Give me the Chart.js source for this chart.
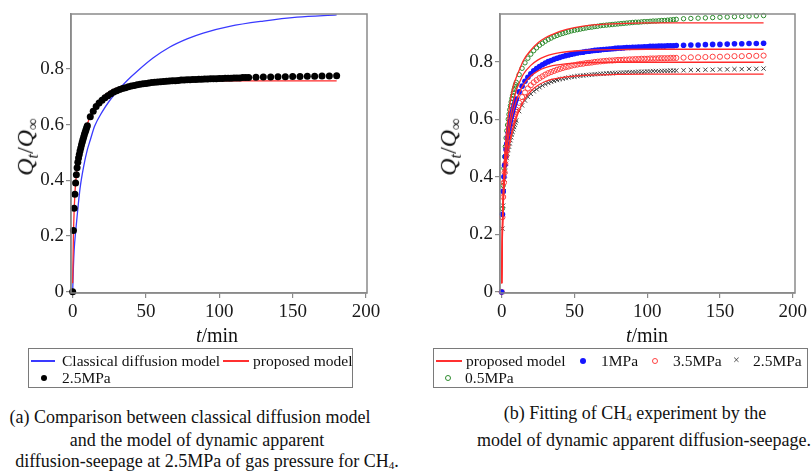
<!DOCTYPE html>
<html><head><meta charset="utf-8">
<script src="https://cdn.jsdelivr.net/npm/chart.js@4/dist/chart.umd.min.js"></script>
<style>
html,body{margin:0;padding:0;background:#fff}
body{width:811px;height:474px;overflow:hidden;position:relative;font-family:"Liberation Serif","Times New Roman",serif;color:#111}
canvas{position:absolute}
.a{position:absolute;white-space:nowrap}
.c{transform:translate(-50%,-50%)}
.yt{transform:translate(-50%,-50%) rotate(-90deg);font-size:24px;line-height:1}
.yt sub{font-size:0.68em;vertical-align:-0.3em}
.xt{font-size:20px;line-height:1}
.box{border:1.5px solid #7a7a7a;box-sizing:border-box}
.lt{font-size:15.5px;line-height:18px}
.ln{height:2px}
.cap{font-size:18px;line-height:22px}
.cap sub{font-size:0.62em;vertical-align:-0.25em}
</style></head><body>
<canvas id="c1" width="400" height="345" style="left:0;top:0"></canvas>
<canvas id="c2" width="401" height="345" style="left:410px;top:0"></canvas>

<div class="a yt" style="left:27px;top:147px"><i>Q</i><sub><i>t</i></sub>/<i>Q</i><sub>∞</sub></div>
<div class="a yt" style="left:450px;top:147px"><i>Q</i><sub><i>t</i></sub>/<i>Q</i><sub>∞</sub></div>
<div class="a c xt" style="left:217px;top:335px"><i>t</i>/min</div>
<div class="a c xt" style="left:647px;top:335px"><i>t</i>/min</div>

<div class="a box" style="left:28px;top:348px;width:325px;height:40px"></div>
<div class="a ln" style="left:31px;top:360px;width:24px;background:#3a3aff"></div>
<div class="a lt" style="left:62px;top:352px">Classical diffusion model</div>
<div class="a ln" style="left:223px;top:360px;width:26px;background:#ff3030"></div>
<div class="a lt" style="left:253px;top:352px">proposed model</div>
<div class="a" style="left:41px;top:375px;width:6px;height:6px;border-radius:50%;background:#000"></div>
<div class="a lt" style="left:62px;top:369px">2.5MPa</div>

<div class="a box" style="left:433px;top:348px;width:375px;height:40px"></div>
<div class="a ln" style="left:436px;top:360px;width:26px;background:#ff3030"></div>
<div class="a lt" style="left:466px;top:352px">proposed model</div>
<div class="a" style="left:580px;top:358px;width:6px;height:6px;border-radius:50%;background:#1515ff"></div>
<div class="a lt" style="left:601px;top:352px">1MPa</div>
<div class="a" style="left:652px;top:358px;width:6px;height:6px;border-radius:50%;border:1px solid #ff4040;box-sizing:border-box"></div>
<div class="a lt" style="left:673px;top:352px">3.5MPa</div>
<div class="a" style="left:733px;top:351px;font-size:12px;line-height:18px;color:#444">×</div>
<div class="a lt" style="left:753px;top:352px">2.5MPa</div>
<div class="a" style="left:445px;top:375px;width:6px;height:6px;border-radius:50%;border:1.2px solid #2e8b2e;box-sizing:border-box"></div>
<div class="a lt" style="left:465px;top:369px">0.5MPa</div>

<div class="a c cap" style="left:190px;top:417px">(a) Comparison between classical diffusion model</div>
<div class="a c cap" style="left:197px;top:440px">and the model of dynamic apparent</div>
<div class="a c cap" style="left:207px;top:463px">diffusion-seepage at 2.5MPa of gas pressure for CH<sub>4</sub>.</div>
<div class="a c cap" style="left:635px;top:415px">(b) Fitting of CH<sub>4</sub> experiment by the</div>
<div class="a cap" style="left:477px;top:429px">model of dynamic apparent diffusion-seepage.</div>

<script>
// ---- data ----
const tData = [0,0.5,1,1.5,2,2.5,3,3.5,4,4.5,5,5.5,6,6.5,7,7.5,8,8.5,9,9.5,10,
  12,14,16,18,20,22,24,26,28,30,32,34,36,38,40,42,44,46,48,50,52,54,56,58,60,
  62,64,66,68,70,72,74,76,78,80,82,84,86,88,90,92,94,96,98,100,102,104,106,108,110,
  112,114,116,118,120,125,130,135,140,145,150,155,160,165,170,175,180];

const p25 = [0,0.22,0.30,0.35,0.39,0.42,0.445,0.465,0.48,0.493,0.505,0.516,0.527,0.537,0.547,0.556,0.565,0.573,0.581,0.589,0.596,
  0.628,0.648,0.665,0.678,0.688,0.697,0.704,0.711,0.717,0.722,0.726,0.73,0.733,0.736,0.739,0.741,0.743,0.745,0.747,0.748,
  0.75,0.751,0.752,0.753,0.754,0.755,0.756,0.757,0.758,0.758,0.759,0.76,0.76,0.761,0.761,0.762,0.762,0.763,0.763,0.764,
  0.764,0.765,0.765,0.765,0.766,0.766,0.767,0.767,0.767,0.768,0.768,0.768,0.769,0.769,0.769,
  0.77,0.771,0.771,0.772,0.772,0.773,0.773,0.774,0.774,0.775,0.775,0.776];

const p1 = [0,0.27,0.35,0.40,0.44,0.47,0.495,0.515,0.535,0.552,0.568,0.582,0.595,0.607,0.618,0.628,0.638,0.647,0.655,0.663,0.67,
  0.695,0.715,0.732,0.746,0.758,0.768,0.776,0.783,0.789,0.795,0.8,0.804,0.808,0.812,0.815,0.818,0.821,0.823,0.826,0.828,
  0.83,0.832,0.833,0.835,0.836,0.838,0.839,0.84,0.841,0.842,0.843,0.844,0.845,0.846,0.847,0.847,0.848,0.849,0.849,0.85,
  0.85,0.851,0.851,0.852,0.852,0.853,0.853,0.853,0.854,0.854,0.854,0.855,0.855,0.855,0.856,
  0.857,0.858,0.858,0.859,0.86,0.86,0.861,0.862,0.862,0.863,0.863,0.864];

const p35 = [0,0.26,0.33,0.38,0.415,0.445,0.47,0.49,0.508,0.524,0.538,0.551,0.563,0.574,0.584,0.594,0.603,0.611,0.619,0.626,0.633,
  0.657,0.677,0.693,0.707,0.718,0.728,0.736,0.743,0.749,0.755,0.76,0.764,0.768,0.772,0.775,0.778,0.781,0.783,0.786,0.788,
  0.79,0.792,0.793,0.795,0.796,0.797,0.799,0.8,0.801,0.802,0.803,0.804,0.804,0.805,0.806,0.806,0.807,0.807,0.808,0.808,
  0.809,0.809,0.81,0.81,0.81,0.811,0.811,0.811,0.812,0.812,0.812,0.812,0.813,0.813,0.813,
  0.814,0.815,0.815,0.816,0.817,0.817,0.818,0.819,0.819,0.82,0.82,0.821];

const p05 = [0,0.29,0.37,0.43,0.47,0.505,0.535,0.56,0.58,0.6,0.617,0.633,0.647,0.66,0.672,0.683,0.693,0.703,0.712,0.72,0.728,
  0.755,0.777,0.796,0.812,0.826,0.838,0.848,0.857,0.864,0.871,0.877,0.882,0.887,0.891,0.895,0.898,0.901,0.904,0.907,0.909,
  0.911,0.913,0.915,0.917,0.919,0.92,0.922,0.923,0.925,0.926,0.927,0.928,0.929,0.93,0.931,0.932,0.933,0.934,0.935,0.936,
  0.937,0.937,0.938,0.939,0.939,0.94,0.941,0.941,0.942,0.943,0.943,0.944,0.945,0.946,0.947,
  0.949,0.95,0.951,0.952,0.953,0.954,0.955,0.956,0.957,0.958,0.959,0.96];

const tModel = [0,0.5,1,1.5,2,3,4,5,6,8,10,12,15,20,25,30,35,40,50,60,80,100,120,150,180];
const m25 = [0.03,0.2,0.29,0.35,0.39,0.445,0.483,0.51,0.535,0.573,0.603,0.63,0.662,0.697,0.718,0.731,0.739,0.744,0.75,0.753,0.756,0.757,0.757,0.757,0.757];
const m1  = [0.03,0.22,0.32,0.38,0.43,0.495,0.54,0.58,0.61,0.66,0.70,0.725,0.757,0.787,0.806,0.818,0.826,0.831,0.837,0.84,0.842,0.843,0.843,0.843,0.843];
const m35 = [0.03,0.21,0.3,0.36,0.405,0.47,0.515,0.55,0.58,0.628,0.663,0.69,0.72,0.75,0.768,0.779,0.786,0.79,0.795,0.797,0.798,0.798,0.798,0.798,0.798];
const m05 = [0.03,0.24,0.35,0.42,0.47,0.54,0.59,0.63,0.665,0.715,0.745,0.77,0.805,0.84,0.866,0.883,0.895,0.905,0.918,0.926,0.932,0.935,0.935,0.935,0.935];

const tClassic = [0,0.5,1,2,3,5,7.5,10,12,15,20,25,30,37,44,55,66,78,89,107,130,153,180];
const classic  = [0,0.09,0.15,0.215,0.27,0.37,0.45,0.51,0.545,0.595,0.645,0.685,0.718,0.758,0.792,0.84,0.878,0.908,0.929,0.953,0.972,0.986,0.994];

const xTicks = [0,50,100,150,200];
const yTicks = [0,0.2,0.4,0.6,0.8];

// ---- helpers ----
const pts = (xs, ys) => xs.map((x, i) => ({x: x, y: ys[i]}));
const FONT = {family: "'Liberation Serif', serif", size: 19};
const AX = '#8a8a8a';

const boxPlugin = {
  id: 'boxFrame',
  afterDraw(chart) {
    const a = chart.chartArea, ctx = chart.ctx;
    ctx.save();
    ctx.strokeStyle = AX; ctx.lineWidth = 1.5;
    ctx.strokeRect(a.left, a.top, a.right - a.left, a.bottom - a.top);
    ctx.restore();
  }
};

function lineDs(label, xs, ys, color, order) {
  return {label, data: pts(xs, ys), showLine: true, pointRadius: 0, borderColor: color,
    borderWidth: 1.3, cubicInterpolationMode: 'monotone', order, clip: false};
}
function markDs(label, ys, style, order) {
  return Object.assign({label, data: pts(tData, ys), showLine: false, order, clip: false,
    pointHoverRadius: 0}, style);
}

function makeChart(id, datasets, yMin, yMax, xMin, xMax, yW, padR) {
  return new Chart(document.getElementById(id), {
    type: 'scatter',
    data: {datasets},
    plugins: [boxPlugin],
    options: {
      responsive: false, animation: false, devicePixelRatio: 1,
      layout: {padding: {left: 0, top: 14, right: padR, bottom: 0}},
      plugins: {legend: {display: false}, tooltip: {enabled: false}},
      scales: {
        x: {
          type: 'linear', min: xMin, max: xMax,
          afterBuildTicks: s => { s.ticks = xTicks.map(v => ({value: v})); },
          afterFit: s => { s.height = 52; },
          ticks: {font: FONT, color: '#1a1a1a', padding: 3, autoSkip: false, maxRotation: 0,
            callback: v => String(v)},
          grid: {display: true, drawOnChartArea: false, drawTicks: true, tickLength: 5, color: AX, lineWidth: 1.2},
          border: {display: true, color: AX, width: 1.5}
        },
        y: {
          type: 'linear', min: yMin, max: yMax,
          afterBuildTicks: s => { s.ticks = yTicks.map(v => ({value: v})); },
          afterFit: s => { s.width = yW; },
          ticks: {font: FONT, color: '#1a1a1a', padding: 2, autoSkip: false,
            callback: v => String(v)},
          grid: {display: true, drawOnChartArea: false, drawTicks: true, tickLength: 5, color: AX, lineWidth: 1.2},
          border: {display: true, color: AX, width: 1.5}
        }
      }
    }
  });
}

function draw() {
  // ---- chart (a) ----
  makeChart('c1', [
    markDs('2.5MPa', p25, {pointStyle: 'circle', pointRadius: 3.5, backgroundColor: '#000', borderWidth: 0}, 0),
    lineDs('proposed model', tModel, m25, '#ff2a2a', 1),
    lineDs('Classical diffusion model', tClassic, classic, '#3a3aff', 2)
  ], -0.0047, 0.9975, -1.15, 200.7, 71, 33);

  // ---- chart (b) ----
  makeChart('c2', [
    lineDs('proposed model', tModel, m05, '#ff2a2a', 1),
    lineDs('proposed model', tModel, m1, '#ff2a2a', 1),
    lineDs('proposed model', tModel, m35, '#ff2a2a', 1),
    lineDs('proposed model', tModel, m25, '#ff2a2a', 1),
    markDs('1MPa', p1, {pointStyle: 'circle', pointRadius: 2.8, backgroundColor: '#1515ff', borderWidth: 0}, 2),
    markDs('3.5MPa', p35, {pointStyle: 'circle', pointRadius: 2.6, backgroundColor: 'rgba(0,0,0,0)', borderColor: '#ff4040', borderWidth: 1}, 2),
    markDs('2.5MPa', p25, {pointStyle: 'crossRot', pointRadius: 3, borderColor: '#444', borderWidth: 1}, 2),
    markDs('0.5MPa', p05, {pointStyle: 'circle', pointRadius: 2.2, backgroundColor: 'rgba(0,0,0,0)', borderColor: '#2e8b2e', borderWidth: 1}, 2)
  ], -0.0035, 0.9655, -1.17, 201.6, 90, 16);
}

if (document.fonts && document.fonts.load) {
  document.fonts.load("19px 'Liberation Serif'").then(draw, draw);
} else {
  draw();
}
</script>
</body></html>
